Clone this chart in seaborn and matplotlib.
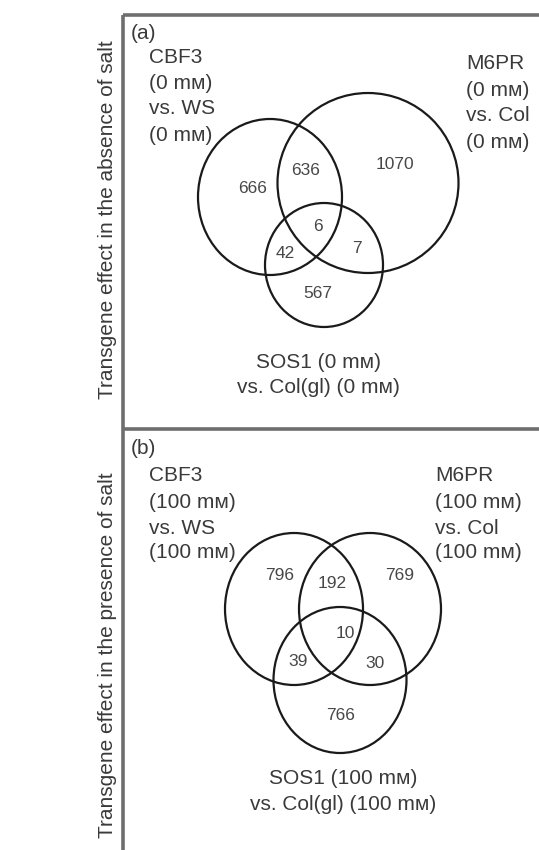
import matplotlib.pyplot as plt
from matplotlib.patches import Ellipse
import seaborn as sns

# region counts, order: CBF3 only, M6PR only, SOS1 only, CBF3&M6PR, CBF3&SOS1, M6PR&SOS1, all three
counts_no_salt = [666, 1070, 567, 636, 42, 7, 6]
counts_salt = [796, 769, 766, 192, 39, 30, 10]

panel_tags = ["(a)", "(b)"]
row_titles = ["Transgene effect in the absence of salt",
              "Transgene effect in the presence of salt"]
cbf3_labels = [["CBF3", "(0 m\u043c)", "vs. WS", "(0 m\u043c)"],
               ["CBF3", "(100 m\u043c)", "vs. WS", "(100 m\u043c)"]]
m6pr_labels = [["M6PR", "(0 m\u043c)", "vs. Col", "(0 m\u043c)"],
               ["M6PR", "(100 m\u043c)", "vs. Col", "(100 m\u043c)"]]
sos1_labels = [["SOS1 (0 m\u043c)", "vs. Col(gl) (0 m\u043c)"],
               ["SOS1 (100 m\u043c)", "vs. Col(gl) (100 m\u043c)"]]

# layout, in pixels of the 539x850 canvas (y goes down)
circles = [
    [(270, 197, 144, 156), (368, 183, 181, 180), (324, 265, 118, 124)],
    [(294, 609, 138, 152), (370, 609, 142, 152), (340, 680, 133, 146)],
]
count_pos = [
    [(253, 188), (395, 164), (318, 293), (306, 170), (285, 253), (357, 248), (318, 226)],
    [(280, 576), (400, 576), (341, 715), (332, 583), (298, 662), (375, 663), (345, 634)],
]
tag_pos = [(131, 33), (131, 448)]
cbf3_pos = [(149, [57, 83, 108, 135]), (149, [475, 502, 528, 553])]
m6pr_pos = [(466, [63, 90, 115, 142]), (435, [475, 502, 528, 553])]
sos1_pos = [(318, [362, 387]), (343, [778, 805])]
title_pos = [(108, 220), (108, 655)]

sns.set_theme(style="white")
plt.rcParams["font.family"] = ["Liberation Sans", "DejaVu Sans"]

fig = plt.figure(figsize=(5.39, 8.5), dpi=100)
ax = fig.add_axes([0, 0, 1, 1])
ax.set_xlim(0, 539)
ax.set_ylim(850, 0)
ax.axis("off")

text_col = "#3a3a3a"
num_col = "#474747"

# frame
box_col = "#6e6e6e"
ax.plot([123, 539], [15, 15], color=box_col, lw=2.6, solid_capstyle="butt")
ax.plot([123, 123], [15, 850], color=box_col, lw=2.6, solid_capstyle="butt")
ax.plot([123, 539], [429, 429], color=box_col, lw=2.6, solid_capstyle="butt")

all_counts = [counts_no_salt, counts_salt]
for p in range(2):
    for (cx, cy, w, h) in circles[p]:
        ax.add_patch(Ellipse((cx, cy), w, h, fill=False, ec="#1a1a1a", lw=1.6))
    for val, (x, y) in zip(all_counts[p], count_pos[p]):
        ax.text(x, y, str(val), ha="center", va="center", fontsize=12.5, color=num_col)

    ax.text(*tag_pos[p], panel_tags[p], ha="left", va="center", fontsize=15, color=text_col)
    x0, ys = cbf3_pos[p]
    for line, y in zip(cbf3_labels[p], ys):
        ax.text(x0, y, line, ha="left", va="center", fontsize=15, color=text_col)
    x0, ys = m6pr_pos[p]
    for line, y in zip(m6pr_labels[p], ys):
        ax.text(x0, y, line, ha="left", va="center", fontsize=15, color=text_col)
    x0, ys = sos1_pos[p]
    for line, y in zip(sos1_labels[p], ys):
        ax.text(x0, y, line, ha="center", va="center", fontsize=15, color=text_col)

    ax.text(*title_pos[p], row_titles[p], rotation=90, ha="center", va="center",
            fontsize=15, color=text_col)

fig.savefig("out.png", dpi=100)
